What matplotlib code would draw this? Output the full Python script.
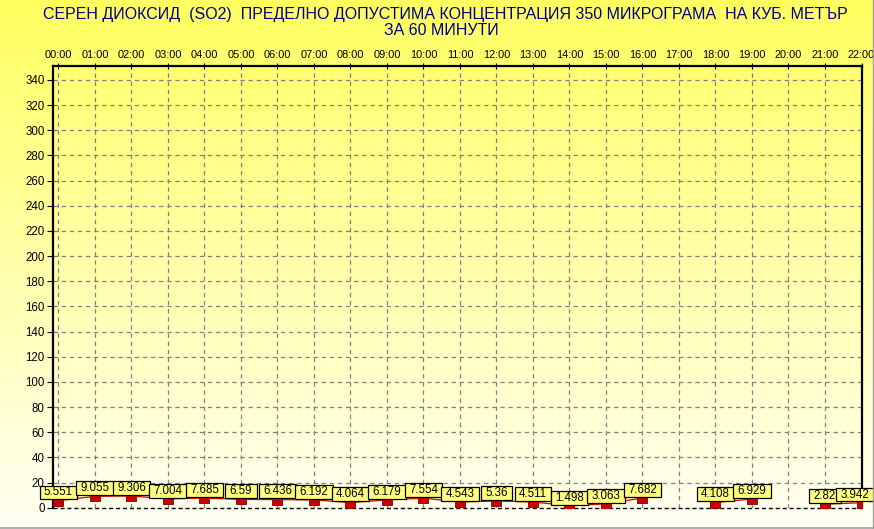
import numpy as np
import matplotlib
matplotlib.use("Agg")
import matplotlib.pyplot as plt
from matplotlib.path import Path
from matplotlib.lines import Line2D

hours = ["00:00", "01:00", "02:00", "03:00", "04:00", "05:00", "06:00", "07:00",
         "08:00", "09:00", "10:00", "11:00", "12:00", "13:00", "14:00", "15:00",
         "16:00", "17:00", "18:00", "19:00", "20:00", "21:00", "22:00"]
values = [5.551, 9.055, 9.306, 7.004, 7.685, 6.59, 6.436, 6.192, 4.064, 6.179,
          7.554, 4.543, 5.36, 4.511, 1.498, 3.063, 7.682, None, 4.108, 6.929,
          None, 2.82, 3.942]
yticks = list(range(0, 341, 20))
title_line1 = "СЕРЕН ДИОКСИД  (SO2)  ПРЕДЕЛНО ДОПУСТИМА КОНЦЕНТРАЦИЯ 350 МИКРОГРАМА  НА КУБ. МЕТЪР"
title_line2 = "ЗА 60 МИНУТИ"

plt.rcParams['font.family'] = ['Liberation Sans', 'DejaVu Sans']

W, H = 874, 529
fig = plt.figure(figsize=(W / 100, H / 100), dpi=100)

# background gradient
bg = fig.add_axes([0, 0, 1, 1], zorder=-10)
grad = np.linspace(0, 1, 256)[:, None]
top = np.array([255, 255, 96]) / 255
bot = np.array([255, 255, 244]) / 255
img = top[None, None, :] * (1 - grad[:, :, None]) + bot[None, None, :] * grad[:, :, None]
bg.imshow(img, aspect='auto', extent=[0, 1, 0, 1], origin='upper')
bg.set_xlim(0, 1); bg.set_ylim(0, 1)
bg.axis('off')

ax = fig.add_axes([53 / W, 1 - 507.7 / H, (861.5 - 53) / W, (507.7 - 66) / H])
ax.set_facecolor('none')

x = np.arange(len(hours))
y = np.array([np.nan if v is None else v for v in values], dtype=float)

ax.set_xlim(-0.15, 22)
ax.set_ylim(0, 351)

# grid
for xi in x:
    ax.axvline(xi, color='#808080', lw=0.9, ls=(0, (3.5, 3)), zorder=1)
for yt in yticks[1:]:
    ax.axhline(yt, color='#808080', lw=0.9, ls=(0, (3.5, 3)), zorder=1)
ax.axhline(0, color='black', lw=1.0, ls=(0, (3, 2)), zorder=2, clip_on=False)

ax.plot(x, y, color='#dd0000', lw=0.9, zorder=3)
ax.plot(x, y, ls='none', marker='s', ms=6.5, mfc='#cc0000', mec='#800000', mew=0.6, zorder=4)


def label_box(x0, y0, width, height, mutation_size):
    px = 0.38 * mutation_size
    py = 0.08 * mutation_size
    x0, y0 = x0 - px, y0 - py
    x1, y1 = x0 + width + 2 * px, y0 + height + 2 * py
    return Path([(x0, y0), (x1, y0), (x1, y1), (x0, y1), (x0, y0)],
                closed=True)


last = len(values) - 1
for xi, v in zip(x, values):
    if v is None:
        continue
    dx = -4.5 if xi == last else 0
    ax.annotate(f"{v:g}", xy=(xi, v), xytext=(dx, 1.6), textcoords='offset points',
                ha='center', va='bottom', fontsize=8.3, color='black', zorder=6,
                annotation_clip=False,
                bbox=dict(boxstyle=label_box, fc='#ffff80', ec='black', lw=0.9))

ax.set_yticks(yticks)
ax.set_yticklabels([str(t) for t in yticks], fontsize=8.3)
ax.set_xticks(x)
ax.set_xticklabels(hours, fontsize=7.9)
ax.xaxis.tick_top()
ax.tick_params(axis='x', top=True, bottom=False, direction='inout', length=5, pad=2, width=0.8)
ax.tick_params(axis='y', left=True, direction='out', length=4, pad=2, width=0.8)

for s in ['left', 'top', 'right']:
    ax.spines[s].set_linewidth(1.6)
    ax.spines[s].set_color('black')
ax.spines['bottom'].set_visible(False)

fig.text(445.5 / W, 1 - 14.5 / H, title_line1, ha='center', va='center', fontsize=11.5,
         color='#000080')
fig.text(441 / W, 1 - 30.5 / H, title_line2, ha='center', va='center', fontsize=11.5,
         color='#000080')

# panel border
fig.add_artist(Line2D([0, 1], [1.5 / H, 1.5 / H], color='#a0a0a0', lw=1.2))
fig.add_artist(Line2D([1 - 1.0 / W, 1 - 1.0 / W], [1.5 / H, 1], color='#a0a0a0', lw=1.0))
fig.add_artist(plt.Rectangle((0, 0), 1, 1 / H, transform=fig.transFigure, color='white'))

fig.savefig("out.png", dpi=100)
